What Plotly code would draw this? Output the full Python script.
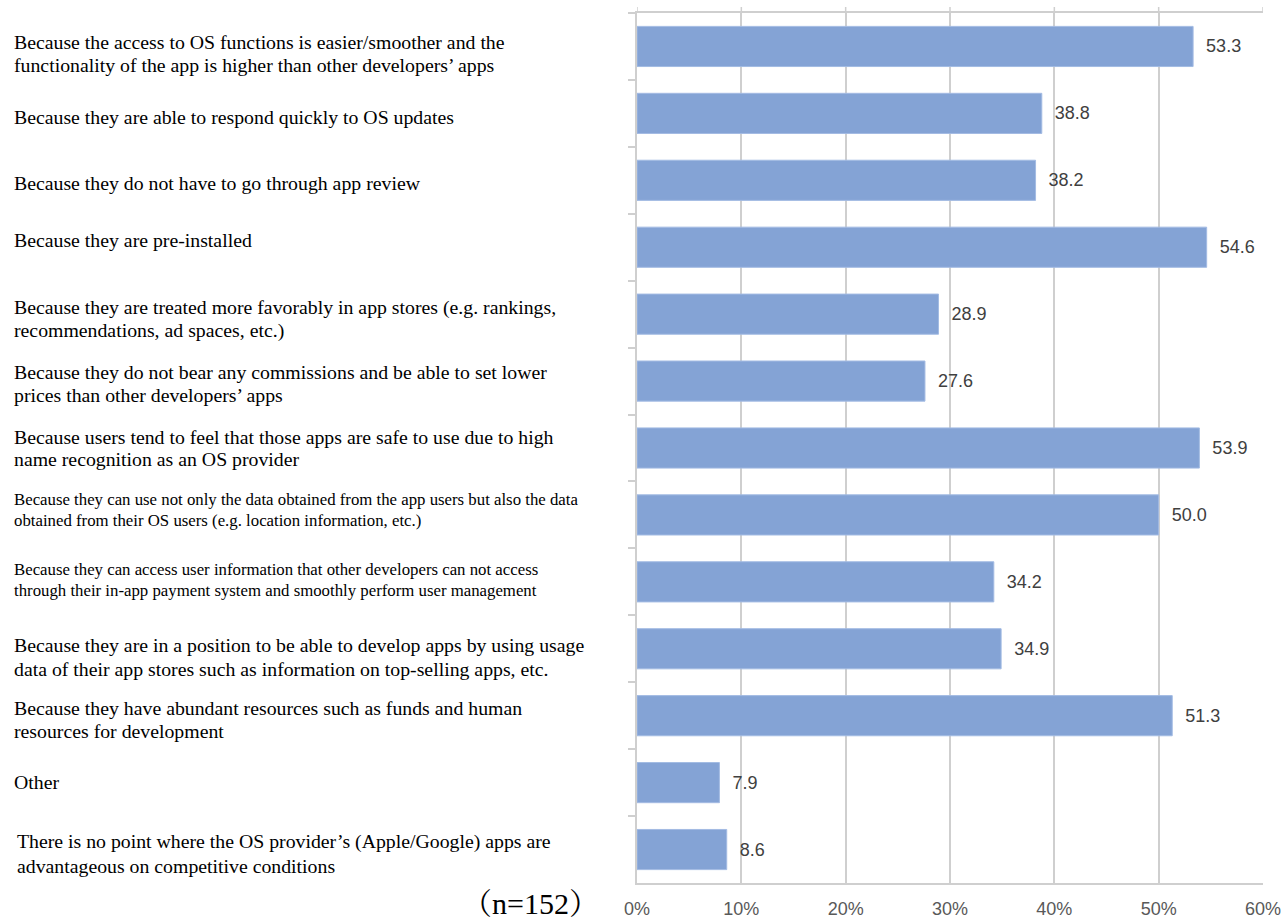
import plotly.graph_objects as go

categories = [
    "Because the access to OS functions is easier/smoother and the<br>functionality of the app is higher than other developers’ apps",
    "Because they are able to respond quickly to OS updates",
    "Because they do not have to go through app review",
    "Because they are pre-installed",
    "Because they are treated more favorably in app stores (e.g. rankings,<br>recommendations, ad spaces, etc.)",
    "Because they do not bear any commissions and be able to set lower<br>prices than other developers’ apps",
    "Because users tend to feel that those apps are safe to use due to high<br>name recognition as an OS provider",
    "Because they can use not only the data obtained from the app users but also the data<br>obtained from their OS users (e.g. location information, etc.)",
    "Because they can access user information that other developers can not access<br>through their in-app payment system and smoothly perform user management",
    "Because they are in a position to be able to develop apps by using usage<br>data of their app stores such as information on top-selling apps, etc.",
    "Because they have abundant resources such as funds and human<br>resources for development",
    "Other",
    "There is no point where the OS provider’s (Apple/Google) apps are<br>advantageous on competitive conditions",
]
values = [53.3, 38.8, 38.2, 54.6, 28.9, 27.6, 53.9, 50.0, 34.2, 34.9, 51.3, 7.9, 8.6]
label_sizes = [19.8, 19.8, 19.8, 19.8, 19.8, 19.8, 19.8, 16.8, 16.8, 19.8, 19.8, 19.8, 19.8]
line_heights = [23, 23, 23, 23, 23, 23, 22, 21, 21, 24, 23, 23, 24]
label_x_px = [12, 12, 12, 12, 12, 12, 12, 12, 12, 12, 12, 12, 15]
label_yshift = [-7, -4, -3, 7, -5, -2, 0, 5, 2, -8, -4, 1, -4]
tick_vals = [0, 10, 20, 30, 40, 50, 60]
tick_text = ["0%", "10%", "20%", "30%", "40%", "50%", "60%"]
ids = [str(i) for i in range(len(categories))]

W, H = 1283, 921
L, R, T, B = 637, 20, 13, 38
pw = W - L - R
ph = H - T - B

fig = go.Figure()
fig.add_trace(go.Bar(
    x=values, y=ids, orientation="h",
    marker=dict(color="#84a3d5", line=dict(color="#a3bbe3", width=1)),
    texttemplate="\u00a0\u00a0%{x:.1f}", textposition="outside",
    textfont=dict(family="Liberation Sans, Arial, sans-serif", size=18, color="#404040"),
    cliponaxis=False, width=0.6, hoverinfo="skip",
))

grid_color = "#cfcfcf"
fig.update_layout(
    width=W, height=H,
    margin=dict(l=L, r=R, t=T, b=B, autoexpand=False),
    paper_bgcolor="white", plot_bgcolor="white",
    showlegend=False,
    xaxis=dict(
        range=[0, 60], tickvals=tick_vals, ticktext=tick_text, automargin=False,
        showgrid=True, gridcolor=grid_color, gridwidth=1.5,
        showline=True, linecolor=grid_color, linewidth=1.5, mirror=True,
        zeroline=False, ticks="", ticklabelstandoff=9,
        tickfont=dict(family="Liberation Sans, Arial, sans-serif", size=18, color="#595959"),
    ),
    yaxis=dict(
        type="category", categoryorder="array", categoryarray=ids, automargin=False,
        autorange="reversed", showticklabels=False, showgrid=False,
        ticks="outside", tickson="boundaries", ticklen=7, tickcolor=grid_color, tickwidth=1.5,
        showline=True, linecolor=grid_color, linewidth=1.5, zeroline=False,
    ),
)

# small grid extensions above the top border
for v in tick_vals:
    fig.add_shape(type="line", xref="x", yref="paper", x0=v, x1=v, y0=1, y1=1 + 6 / ph,
                  line=dict(color=grid_color, width=1.5))

for i, cat in enumerate(categories):
    lines = cat.split("<br>")
    n = len(lines)
    for j, line in enumerate(lines):
        fig.add_annotation(
            xref="paper", yref="y", x=(label_x_px[i] - L) / pw, y=ids[i],
            text=line, showarrow=False, xanchor="left", yanchor="middle", align="left",
            yshift=label_yshift[i] - (j - (n - 1) / 2) * line_heights[i],
            font=dict(family="Liberation Serif, Times New Roman, serif", size=label_sizes[i], color="black"),
        )

fig.add_annotation(
    xref="paper", yref="paper", x=(601 - L) / pw, y=-(903 - (T + ph)) / ph,
    text="（n=152）", showarrow=False, xanchor="right", yanchor="middle",
    font=dict(family="Liberation Serif, Noto Serif CJK JP, serif", size=30, color="black"),
)

fig.write_html("out.html")
